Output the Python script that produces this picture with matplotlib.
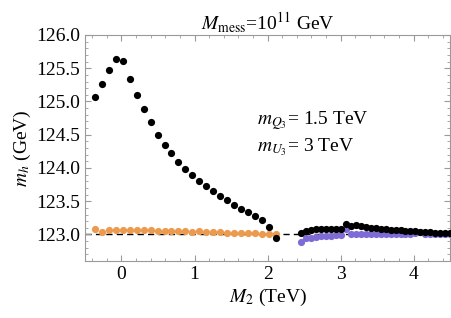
import numpy as np
import matplotlib
matplotlib.use("Agg")
import matplotlib.pyplot as plt

# M2 grid of the low-M2 scan (TeV)
m2_left = [-0.363 + 0.0952 * k for k in range(27)]
mh_black_left = [125.07, 125.26, 125.47, 125.64, 125.61, 125.34, 125.10, 124.89,
                 124.69, 124.50, 124.35, 124.22, 124.09, 123.99, 123.89, 123.80,
                 123.73, 123.65, 123.58, 123.52, 123.45, 123.39, 123.34, 123.28,
                 123.22, 123.11, 122.94]
mh_orange = [123.075, 123.035, 123.07, 123.07, 123.07, 123.07, 123.07, 123.065,
             123.06, 123.055, 123.05, 123.05, 123.045, 123.05, 123.04, 123.045,
             123.035, 123.03, 123.03, 123.025, 123.02, 123.02, 123.015, 123.015,
             123.01, 123.01, 123.01]

# M2 grid of the high-M2 scan (TeV)
m2_right = [2.46 + 0.068 * k for k in range(31)]
mh_black_right = [123.02, 123.056, 123.07, 123.085, 123.085, 123.085, 123.085,
                  123.085, 123.085, 123.16, 123.135, 123.14, 123.125, 123.11,
                  123.10, 123.09, 123.085, 123.075, 123.07, 123.065, 123.06,
                  123.055, 123.05, 123.045, 123.04, 123.035, 123.03, 123.025,
                  123.025, 123.02, 123.02]
mh_purple = [122.89, 122.94, 122.95, 122.96, 122.97, 122.975, 122.98, 122.985,
             122.985, 123.075, 123.01, 123.005, 123.005, 123.005, 123.005,
             123.005, 123.005, 123.005, 123.005, 123.005, 123.005, 123.01,
             123.01, 123.02, 123.04, 123.01, 123.005, 123.005, 123.0, 123.0,
             123.0]

mh_ref = 123.0

plt.rcParams['font.family'] = ['Liberation Serif', 'DejaVu Serif']
plt.rcParams['mathtext.fontset'] = 'stix'

fig = plt.figure(figsize=(4.52, 3.18), dpi=100)
ax = fig.add_axes([0.188, 0.179, 0.808, 0.711])

ax.axhline(mh_ref, color='black', ls=(0, (4.5, 3)), lw=1.0, zorder=1)

ms = 27
ax.scatter(m2_left, mh_orange, s=ms, color='#EC9A4E', lw=0, zorder=2)
ax.scatter(m2_right, mh_purple, s=ms, color='#7F6BD6', lw=0, zorder=2)
ax.scatter(m2_left, mh_black_left, s=ms, color='black', lw=0, zorder=3)
ax.scatter(m2_right, mh_black_right, s=ms, color='black', lw=0, zorder=3)

ax.set_xlim(-0.5, 4.5)
ax.set_ylim(122.6, 126.0)
ax.set_xticks([0, 1, 2, 3, 4])
ax.set_xticks(np.arange(-0.4, 4.5, 0.2), minor=True)
ax.set_yticks(np.arange(123.0, 126.01, 0.5))
ax.set_yticks(np.arange(122.6, 126.01, 0.1), minor=True)
ax.set_yticklabels([f"{v:.1f}" for v in np.arange(123.0, 126.01, 0.5)])

for sp in ax.spines.values():
    sp.set_color('#9a9a9a')
    sp.set_linewidth(0.8)
ax.tick_params(which='both', direction='in', top=True, right=True,
               color='#9a9a9a', labelsize=14)
ax.tick_params(which='major', length=4, width=0.8)
ax.tick_params(which='minor', length=2.2, width=0.6)

ax.set_xlabel(r'$M_2$ (TeV)', fontsize=14, labelpad=3)
ax.set_ylabel(r'$m_h$ (GeV)', fontsize=14, labelpad=2)
ax.set_title(r'$M_{\rm mess}$=10$^{11}$ GeV', fontsize=14, pad=4)

ax.text(1.86, 124.71, r'$m_{Q_3}$= 1.5 TeV', fontsize=14, va='center')
ax.text(1.86, 124.31, r'$m_{U_3}$= 3 TeV', fontsize=14, va='center')

fig.savefig('out.png', dpi=100)
